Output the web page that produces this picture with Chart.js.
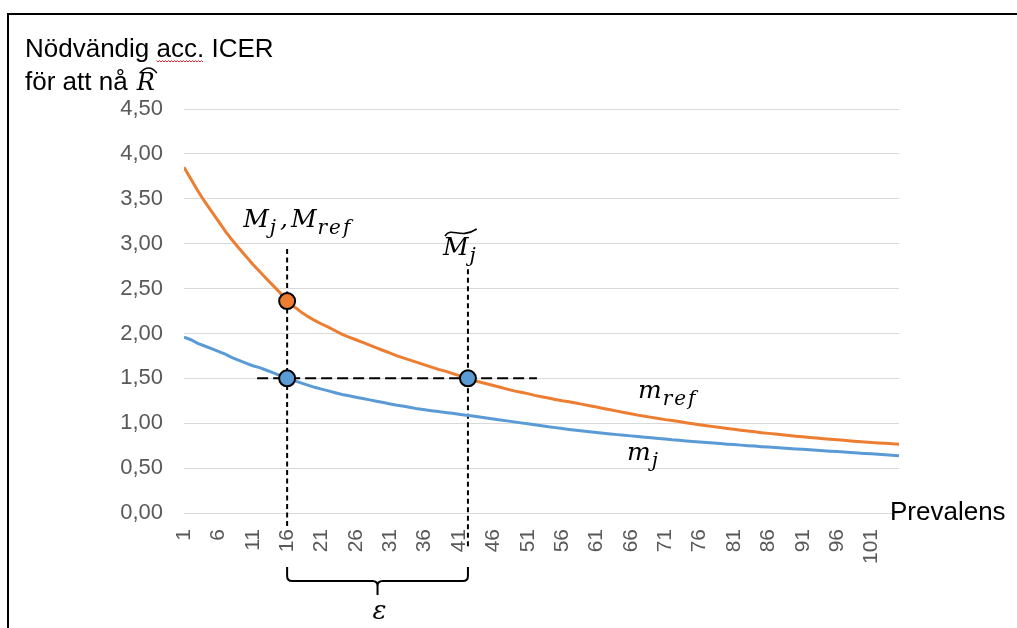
<!DOCTYPE html>
<html>
<head>
<meta charset="utf-8">
<script src="https://cdn.jsdelivr.net/npm/chart.js@4.4.1/dist/chart.umd.min.js"></script>
<style>
  html, body { margin: 0; padding: 0; background: #fff; }
  canvas { display: block; }
</style>
</head>
<body>
<canvas id="icerChart" width="1017" height="628"></canvas>
<script>
// prevalence categories on the x axis
var prevalens = [
  1, 2, 3, 4, 5, 6, 7, 8, 9, 10, 11, 12, 13, 14, 15, 16, 17, 18, 19, 20,
  21, 22, 23, 24, 25, 26, 27, 28, 29, 30, 31, 32, 33, 34, 35, 36, 37, 38, 39, 40,
  41, 42, 43, 44, 45, 46, 47, 48, 49, 50, 51, 52, 53, 54, 55, 56, 57, 58, 59, 60,
  61, 62, 63, 64, 65, 66, 67, 68, 69, 70, 71, 72, 73, 74, 75, 76, 77, 78, 79, 80,
  81, 82, 83, 84, 85, 86, 87, 88, 89, 90, 91, 92, 93, 94, 95, 96, 97, 98, 99, 100,
  101, 102, 103, 104, 105
];

// required ICER, reference method (m_ref)
var mRef = [
  3.85, 3.72, 3.59, 3.47, 3.36, 3.25, 3.14, 3.04, 2.95, 2.86,
  2.77, 2.69, 2.61, 2.53, 2.45, 2.36, 2.30, 2.24, 2.19, 2.145,
  2.105, 2.07, 2.03, 1.99, 1.96, 1.93, 1.90, 1.87, 1.84, 1.81,
  1.78, 1.75, 1.725, 1.70, 1.675, 1.65, 1.625, 1.60, 1.58, 1.555,
  1.53, 1.505, 1.48, 1.46, 1.44, 1.42, 1.40, 1.38, 1.36, 1.345,
  1.33, 1.31, 1.295, 1.28, 1.265, 1.25, 1.24, 1.225, 1.21, 1.195,
  1.18, 1.165, 1.15, 1.135, 1.12, 1.105, 1.09, 1.078, 1.065, 1.052,
  1.04, 1.03, 1.018, 1.006, 0.995, 0.984, 0.973, 0.962, 0.952, 0.942,
  0.932, 0.922, 0.913, 0.904, 0.895, 0.887, 0.879, 0.871, 0.863, 0.856,
  0.849, 0.842, 0.835, 0.828, 0.821, 0.815, 0.809, 0.803, 0.797, 0.791,
  0.786, 0.781, 0.776, 0.771, 0.766
];

// required ICER, new method (m_j)
var mJ = [
  1.96, 1.93, 1.89, 1.86, 1.83, 1.80, 1.77, 1.73, 1.70, 1.67,
  1.64, 1.62, 1.59, 1.56, 1.53, 1.50, 1.475, 1.45, 1.425, 1.40,
  1.38, 1.36, 1.34, 1.32, 1.305, 1.29, 1.275, 1.26, 1.245, 1.23,
  1.215, 1.20, 1.19, 1.175, 1.16, 1.15, 1.14, 1.13, 1.12, 1.11,
  1.10, 1.09, 1.08, 1.07, 1.059, 1.048, 1.037, 1.026, 1.015, 1.004,
  0.993, 0.982, 0.971, 0.961, 0.951, 0.941, 0.931, 0.922, 0.913, 0.905,
  0.897, 0.889, 0.881, 0.873, 0.866, 0.859, 0.852, 0.845, 0.838, 0.831,
  0.823, 0.815, 0.809, 0.803, 0.797, 0.791, 0.785, 0.779, 0.773, 0.767,
  0.762, 0.756, 0.750, 0.745, 0.739, 0.734, 0.729, 0.724, 0.719, 0.714,
  0.709, 0.704, 0.699, 0.694, 0.689, 0.684, 0.679, 0.674, 0.669, 0.664,
  0.659, 0.654, 0.649, 0.644, 0.639
];

var xTickLabels = [1, 6, 11, 16, 21, 26, 31, 36, 41, 46, 51, 56, 61, 66, 71, 76, 81, 86, 91, 96, 101];

// M_j / M_ref point and where m_ref comes down to the same ICER
var markedPrevalens = 16;
var crossingPrevalens = 42.3;

var ORANGE = '#ED7D31';
var BLUE = '#5B9BD5';
var SANS = '"Liberation Sans", Arial, sans-serif';
var SERIF = '"DejaVu Serif", "Liberation Serif", serif';

var mi = prevalens.indexOf(markedPrevalens);
var targetIcer = mJ[mi];

function toPoints(ys) {
    return prevalens.map(function (p, i) { return { x: p, y: ys[i] }; });
}

// italic symbol with a subscript, returns the x where it ends
function sub(ctx, base, s, x, y) {
    ctx.font = 'italic 25px ' + SERIF;
    ctx.letterSpacing = '0px';
    ctx.fillText(base, x, y);
    x += ctx.measureText(base).width;
    ctx.font = 'italic 20px ' + SERIF;
    ctx.letterSpacing = '2px';
    ctx.fillText(s, x + 1, y + 7);
    var end = x + 1 + ctx.measureText(s).width;
    ctx.letterSpacing = '0px';
    return end;
}

var guides = {
    id: 'guides',
    beforeDatasetsDraw: function (chart) {
        var ctx = chart.ctx, x = chart.scales.x, y = chart.scales.y, area = chart.chartArea;
        var xm = x.getPixelForValue(markedPrevalens);
        var xc = x.getPixelForValue(crossingPrevalens);
        var yRef = y.getPixelForValue(mRef[mi]);
        var yT = y.getPixelForValue(targetIcer);
        ctx.save();
        ctx.strokeStyle = '#000';
        ctx.lineWidth = 2;
        ctx.setLineDash([5, 3.5]);
        ctx.beginPath();
        ctx.moveTo(xm, yRef - 52); ctx.lineTo(xm, area.bottom + 14);
        ctx.moveTo(xc, yT - 109); ctx.lineTo(xc, area.bottom + 35);
        ctx.stroke();
        ctx.setLineDash([11, 5]);
        ctx.beginPath();
        ctx.moveTo(xm - 30, yT); ctx.lineTo(xc + 69, yT);
        ctx.stroke();
        ctx.restore();
    },
    afterDraw: function (chart) {
        var ctx = chart.ctx, x = chart.scales.x, area = chart.chartArea;
        var xm = x.getPixelForValue(markedPrevalens);
        var xc = x.getPixelForValue(crossingPrevalens);
        ctx.save();

        // frame
        ctx.strokeStyle = '#000';
        ctx.lineWidth = 2;
        ctx.beginPath();
        ctx.moveTo(8, 628); ctx.lineTo(8, 14); ctx.lineTo(1017, 14);
        ctx.stroke();

        // y axis title
        ctx.fillStyle = '#000';
        ctx.textBaseline = 'alphabetic';
        ctx.font = '26px ' + SANS;
        ctx.fillText('Nödvändig acc. ICER', 25, 57);
        var sx = 25 + ctx.measureText('Nödvändig ').width;
        var sw = ctx.measureText('acc.').width;
        ctx.fillText('för att nå', 25, 90);
        var rx = 25 + ctx.measureText('för att nå ').width + 2;
        ctx.font = 'italic 24px ' + SERIF;
        ctx.fillText('R', rx, 90);
        var rw = ctx.measureText('R').width;
        ctx.lineWidth = 1.3;
        ctx.beginPath();
        ctx.moveTo(rx + 3, 73);
        ctx.quadraticCurveTo(rx + rw / 2 + 3, 63, rx + rw + 2, 73);
        ctx.stroke();

        // spell-check squiggle under "acc."
        ctx.strokeStyle = '#e0202a';
        ctx.lineWidth = 1;
        ctx.beginPath();
        for (var i = 0; i <= sw; i += 1.5) {
            var yy = 61 + ((Math.round(i / 1.5) % 2) ? 1 : -0.5);
            if (i === 0) ctx.moveTo(sx + i, yy); else ctx.lineTo(sx + i, yy);
        }
        ctx.stroke();

        // x axis title
        ctx.fillStyle = '#000';
        ctx.font = '26px ' + SANS;
        ctx.fillText('Prevalens', 890, 520);

        // curve and point labels
        var nx = sub(ctx, 'M', 'j', xm - 44, 227);
        ctx.font = 'italic 25px ' + SERIF;
        ctx.fillText(',', nx + 2, 227);
        sub(ctx, 'M', 'ref', nx + 13, 227);

        var tx = xc - 25;
        var tEnd = sub(ctx, 'M', 'j', tx, 255);
        ctx.strokeStyle = '#000';
        ctx.lineWidth = 1.6;
        ctx.beginPath();
        ctx.moveTo(tx + 2, 236);
        ctx.bezierCurveTo(tx + 9, 226, tEnd - 18, 240, tEnd - 1, 229);
        ctx.stroke();

        sub(ctx, 'm', 'ref', 638, 398);
        sub(ctx, 'm', 'j', 627, 460);

        // brace spanning epsilon
        var bt = area.bottom + 54, bb = area.bottom + 68, mid = (xm + xc) / 2, r = 5;
        ctx.lineWidth = 2;
        ctx.beginPath();
        ctx.moveTo(xm, bt);
        ctx.lineTo(xm, bb - r);
        ctx.quadraticCurveTo(xm, bb, xm + r, bb);
        ctx.lineTo(mid - r, bb);
        ctx.quadraticCurveTo(mid, bb, mid, bb + r);
        ctx.lineTo(mid, bb + 14);
        ctx.moveTo(mid, bb + r);
        ctx.quadraticCurveTo(mid, bb, mid + r, bb);
        ctx.lineTo(xc - r, bb);
        ctx.quadraticCurveTo(xc, bb, xc, bb - r);
        ctx.lineTo(xc, bt);
        ctx.stroke();

        ctx.font = 'italic 26px ' + SERIF;
        ctx.textAlign = 'center';
        ctx.fillText('\u03B5', mid + 2, 619);
        ctx.restore();
    }
};

var ctx = document.getElementById('icerChart').getContext('2d');

var icerChart = new Chart(ctx, {
    type: 'line',
    data: {
        datasets: [
            {
                label: 'm_ref',
                data: toPoints(mRef),
                borderColor: ORANGE,
                borderWidth: 3,
                pointRadius: 0,
                tension: 0,
                order: 2
            },
            {
                label: 'm_j',
                data: toPoints(mJ),
                borderColor: BLUE,
                borderWidth: 3,
                pointRadius: 0,
                tension: 0,
                order: 3
            },
            {
                type: 'scatter',
                label: 'M_ref',
                data: [{ x: markedPrevalens, y: mRef[mi] }],
                backgroundColor: ORANGE,
                borderColor: '#000',
                borderWidth: 2,
                pointRadius: 8,
                order: 0
            },
            {
                type: 'scatter',
                label: 'M_j',
                data: [{ x: markedPrevalens, y: mJ[mi] }, { x: crossingPrevalens, y: targetIcer }],
                backgroundColor: BLUE,
                borderColor: '#000',
                borderWidth: 2,
                pointRadius: 8,
                order: 1
            }
        ]
    },
    options: {
        responsive: false,
        animation: false,
        layout: {
            padding: { top: 109, right: 118, left: 0, bottom: 0 }
        },
        plugins: {
            legend: { display: false },
            tooltip: { enabled: false }
        },
        scales: {
            x: {
                type: 'linear',
                min: 1,
                max: 105,
                afterBuildTicks: function (scale) {
                    scale.ticks = xTickLabels.map(function (v) { return { value: v }; });
                },
                afterFit: function (scale) { scale.height = 115; },
                ticks: {
                    autoSkip: false,
                    maxRotation: 90,
                    minRotation: 90,
                    padding: 16,
                    color: '#595959',
                    font: { family: SANS, size: 21 },
                    callback: function (v) { return String(v); }
                },
                grid: { display: false, drawTicks: false },
                border: { display: false }
            },
            y: {
                min: 0,
                max: 4.5,
                afterFit: function (scale) { scale.width = 184; },
                ticks: {
                    stepSize: 0.5,
                    padding: 21,
                    color: '#595959',
                    font: { family: SANS, size: 22 },
                    callback: function (v) { return v.toFixed(2).replace('.', ','); }
                },
                grid: { color: '#d9d9d9', lineWidth: 1, drawTicks: false },
                border: { display: false }
            }
        }
    },
    plugins: [guides]
});
</script>
</body>
</html>
